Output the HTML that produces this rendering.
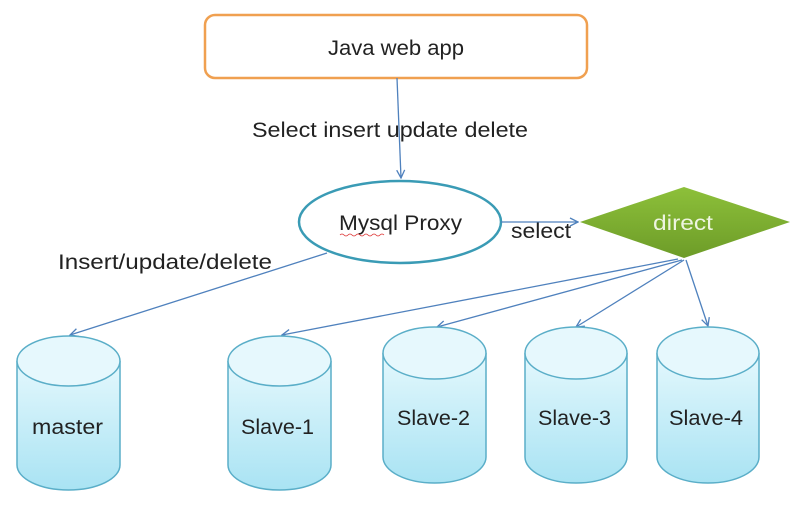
<!DOCTYPE html>
<html><head><style>
html,body{margin:0;padding:0;background:#fff;}
svg{display:block;font-family:"Liberation Sans",sans-serif;}
</style></head><body>
<svg width="800" height="511" viewBox="0 0 800 511">
<defs>
<linearGradient id="cyl" x1="0" y1="0" x2="0" y2="1">
<stop offset="0" stop-color="#e4f8fd"/><stop offset="1" stop-color="#a9e3f3"/>
</linearGradient>
<linearGradient id="dia" x1="0" y1="0" x2="0" y2="1">
<stop offset="0" stop-color="#8dc03a"/><stop offset="1" stop-color="#6d9c28"/>
</linearGradient>
<marker id="ar" markerWidth="10" markerHeight="10" refX="9" refY="5" orient="auto" markerUnits="userSpaceOnUse">
<path d="M1,1 L9,5 L1,9" fill="none" stroke="#4f81bd" stroke-width="1.3"/>
</marker>
</defs>
<rect x="205" y="15" width="382" height="63" rx="10" fill="#fff" stroke="#f0a050" stroke-width="2.5"/>
<text x="328" y="55" font-size="21" textLength="136" lengthAdjust="spacingAndGlyphs" fill="#222">Java web app</text>
<line x1="397" y1="78" x2="401" y2="178" stroke="#4f81bd" stroke-width="1.3" marker-end="url(#ar)"/>
<text x="252" y="137" font-size="21" textLength="276" lengthAdjust="spacingAndGlyphs" fill="#222">Select  insert update delete</text>
<ellipse cx="400" cy="222" rx="101" ry="41" fill="#fff" stroke="#3a9bb5" stroke-width="2.5"/>
<text x="339" y="230" font-size="21" textLength="123" lengthAdjust="spacingAndGlyphs" fill="#222">Mysql Proxy</text>
<path d="M340 235 q2 -2 4 0 t4 0 t4 0 t4 0 t4 0 t4 0 t4 0 t4 0 t4 0 t4 0 t4 0" fill="none" stroke="#d33" stroke-width="0.8"/>
<line x1="501" y1="222" x2="578" y2="222" stroke="#4f81bd" stroke-width="1.3" marker-end="url(#ar)"/>
<text x="511" y="238" font-size="21" textLength="60" lengthAdjust="spacingAndGlyphs" fill="#222">select</text>
<polygon points="580,222 684,187 790,222 684,258" fill="url(#dia)"/>
<text x="653" y="230" font-size="21" textLength="60" lengthAdjust="spacingAndGlyphs" fill="#eef5e0">direct</text>
<text x="58" y="269" font-size="21" textLength="214" lengthAdjust="spacingAndGlyphs" fill="#222">Insert/update/delete</text>
<line x1="327" y1="253" x2="70" y2="335" stroke="#4f81bd" stroke-width="1.3" marker-end="url(#ar)"/>
<g stroke="#4f81bd" stroke-width="1.3" fill="none" marker-end="url(#ar)">
<line x1="678" y1="259" x2="282" y2="335"/>
<line x1="682" y1="260" x2="437" y2="327"/>
<line x1="684" y1="260" x2="576" y2="327"/>
<line x1="686" y1="260" x2="708" y2="326"/>
</g>
<g stroke="#5aaec8" stroke-width="1.5">
<path d="M17 361 v104 a51.5 25 0 0 0 103 0 v-104" fill="url(#cyl)"/>
<ellipse cx="68.5" cy="361" rx="51.5" ry="25" fill="#e6f8fd"/>
<path d="M228 361 v104 a51.5 25 0 0 0 103 0 v-104" fill="url(#cyl)"/>
<ellipse cx="279.5" cy="361" rx="51.5" ry="25" fill="#e6f8fd"/>
<path d="M383 353 v104 a51.5 26 0 0 0 103 0 v-104" fill="url(#cyl)"/>
<ellipse cx="434.5" cy="353" rx="51.5" ry="26" fill="#e6f8fd"/>
<path d="M525 353 v104 a51 26 0 0 0 102 0 v-104" fill="url(#cyl)"/>
<ellipse cx="576" cy="353" rx="51" ry="26" fill="#e6f8fd"/>
<path d="M657 353 v104 a51 26 0 0 0 102 0 v-104" fill="url(#cyl)"/>
<ellipse cx="708" cy="353" rx="51" ry="26" fill="#e6f8fd"/>
</g>
<g font-size="21" fill="#222" lengthAdjust="spacingAndGlyphs">
<text x="32" y="434" textLength="71" lengthAdjust="spacingAndGlyphs">master</text>
<text x="241" y="434" textLength="73" lengthAdjust="spacingAndGlyphs">Slave-1</text>
<text x="397" y="425" textLength="73" lengthAdjust="spacingAndGlyphs">Slave-2</text>
<text x="538" y="425" textLength="73" lengthAdjust="spacingAndGlyphs">Slave-3</text>
<text x="669" y="425" textLength="74" lengthAdjust="spacingAndGlyphs">Slave-4</text>
</g>
</svg>
</body></html>
